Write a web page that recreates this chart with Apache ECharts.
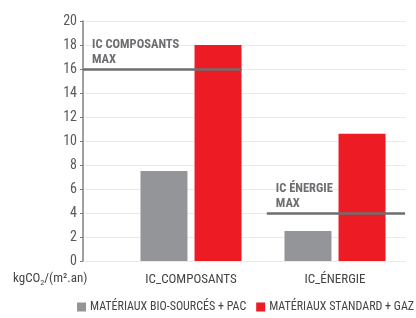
<!DOCTYPE html>
<html>
<head>
<meta charset="utf-8">
<script src="https://cdn.jsdelivr.net/npm/echarts@6/dist/echarts.min.js"></script>
<style>
  html, body { margin: 0; padding: 0; background: #fff; }
</style>
</head>
<body>
<div id="myChart" style="width: 416px; height: 318px;"></div>
<script>
// données
var categories = ['IC_COMPOSANTS', 'IC_ÉNERGIE']
var seriesNames = ['MATÉRIAUX BIO-SOURCÉS + PAC', 'MATÉRIAUX STANDARD + GAZ']
var bioValues = [7.5, 2.5]
var standardValues = [18, 10.6]
var limitNames = ['IC COMPOSANTS\nMAX', 'IC ÉNERGIE\nMAX']
var limitValues = [16, 4]
var yTicks = [0, 20, 2]

var font = "'Liberation Sans Narrow', 'Roboto Condensed', 'DejaVu Sans Condensed', sans-serif"
var colors = ['#939598', '#ed1c24']
// étendue horizontale des lignes max (fraction de la largeur du graphe)
var limitSpans = [[0, 0.491], [0.569, 0.997]]

var myChart = echarts.init(document.getElementById('myChart'))

var limitLines = []
for (var i = 0; i < limitValues.length; i++) {
  limitLines.push([
    { coord: [limitSpans[i][0], limitValues[i]], label: { formatter: limitNames[i] } },
    { coord: [limitSpans[i][1], limitValues[i]] }
  ])
}

myChart.setOption({
  animation: false,
  color: colors,
  textStyle: { fontFamily: font },
  grid: [
    { left: 83, right: 10, top: 21, bottom: 57 },
    { left: 119, right: 9, top: 21, bottom: 57 }
  ],
  xAxis: [
    { gridIndex: 0, type: 'value', min: 0, max: 1, show: false },
    {
      gridIndex: 1,
      type: 'category',
      data: categories,
      axisLine: { show: false },
      axisTick: { show: false },
      axisLabel: { color: '#444', fontSize: 13, margin: 12, fontFamily: font }
    }
  ],
  yAxis: [
    {
      gridIndex: 0,
      type: 'value',
      min: yTicks[0],
      max: yTicks[1],
      interval: yTicks[2],
      axisLine: { show: true, lineStyle: { color: '#7f7f7f', width: 1.5 } },
      axisTick: { show: true, length: 3, lineStyle: { color: '#7f7f7f' } },
      axisLabel: { color: '#58595b', fontSize: 14, margin: 6, fontFamily: font },
      splitLine: { lineStyle: { color: '#ebebeb' } }
    },
    {
      gridIndex: 1,
      type: 'value',
      min: yTicks[0],
      max: yTicks[1],
      show: false
    }
  ],
  legend: {
    left: 72,
    top: 296,
    width: 344,
    itemWidth: 9,
    itemHeight: 9,
    itemGap: 10,
    icon: 'rect',
    textStyle: { color: '#444', fontSize: 12, fontFamily: font, padding: [0, 0, 0, -1] },
    data: seriesNames
  },
  graphic: [
    {
      type: 'text',
      left: 13,
      top: 272,
      style: {
        text: '{a|kgCO}{s|2}{a|/(m².an)}',
        rich: {
          a: { fontSize: 13, fill: '#444', fontFamily: font },
          s: { fontSize: 8, fill: '#444', fontFamily: font, padding: [8, 0, 0, 0] }
        }
      }
    }
  ],
  series: [
    {
      name: seriesNames[0],
      type: 'bar',
      xAxisIndex: 1,
      yAxisIndex: 1,
      barWidth: 47,
      barGap: '15%',
      data: bioValues
    },
    {
      name: seriesNames[1],
      type: 'bar',
      xAxisIndex: 1,
      yAxisIndex: 1,
      barWidth: 47,
      data: standardValues
    },
    {
      type: 'line',
      xAxisIndex: 0,
      yAxisIndex: 0,
      data: [],
      markLine: {
        silent: true,
        symbol: ['none', 'none'],
        lineStyle: { color: '#6d6e71', width: 2.5, type: 'solid' },
        label: {
          position: 'insideStartTop',
          distance: [9, 2],
          color: '#6d6e71',
          fontWeight: 'bold',
          fontSize: 12.5,
          lineHeight: 15,
          align: 'left',
          fontFamily: font
        },
        emphasis: { disabled: true },
        data: limitLines
      }
    }
  ]
})
</script>
</body>
</html>
